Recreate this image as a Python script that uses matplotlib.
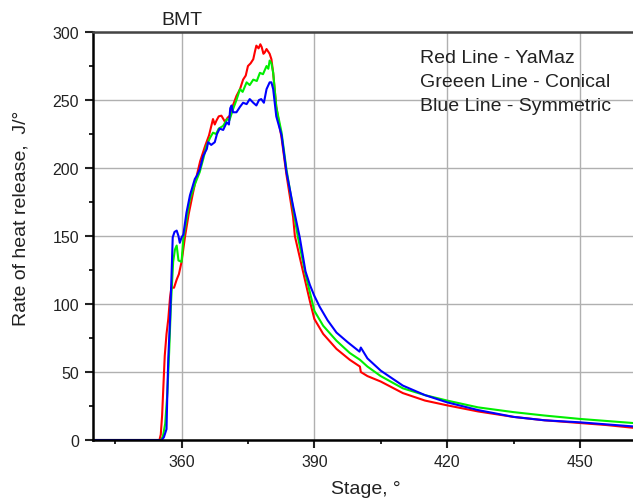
import matplotlib
matplotlib.use("Agg")
import matplotlib.pyplot as plt
from matplotlib.ticker import MultipleLocator

plt.rcParams['font.family'] = ['Liberation Sans', 'DejaVu Sans']

# Red line - YaMaz
red_x = [340, 355.0, 355.3, 355.6, 355.9, 356.2, 356.6, 357.0, 357.4, 357.7, 358.3, 358.9,
         359.4, 360.0, 360.8, 361.6, 362.6, 363.4, 364.2, 365.3, 366.2, 367.1, 367.5, 367.9,
         368.4, 369.0, 369.8, 370.4, 370.9, 371.6, 372.4, 373.2, 373.9, 374.5, 375.0, 375.6,
         376.2, 376.6, 376.9, 377.4, 377.8, 378.1, 378.5, 378.8, 379.2, 379.5, 379.9, 380.3,
         380.7, 381.4, 382.6, 383.7, 385.2, 385.6, 386.8, 388.0, 389.0, 390.0, 392.0, 395.0,
         398.0, 400.3, 400.5, 402.0, 405.0, 410.0, 415.0, 420.0, 427.0, 435.0, 442.0, 450.0,
         456.0, 462.0]
red_y = [0, 0, 4, 18, 40, 62, 78, 89, 105, 112, 112, 118,
         122, 131, 150, 166, 182, 194, 205, 216, 224, 236, 232, 235,
         238, 238.5, 234, 237, 238.5, 246, 253, 258, 265, 268, 275, 277,
         280, 286, 290, 288, 291, 289, 284, 285, 287.5, 286, 284, 280,
         270, 245, 222, 195, 164, 150, 133, 116, 102, 89, 78, 67,
         59, 54, 50, 47, 43, 34.5, 29, 25.5, 21, 17, 14.5, 12.5,
         11, 9]

# Green line - Conical
green_x = [340, 355.4, 355.8, 356.3, 356.8, 357.2, 357.6, 358.1, 358.5, 358.9, 359.3, 360.0,
           360.4, 361.0, 361.9, 363.0, 364.1, 365.0, 365.6, 366.4, 367.1, 367.8, 368.4, 369.4,
           370.3, 370.8, 371.6, 372.4, 373.2, 373.8, 374.7, 375.4, 376.2, 377.0, 377.7, 378.4,
           379.2, 379.6, 379.9, 380.3, 380.7, 381.4, 382.6, 383.7, 385.2, 386.3, 388.0, 390.0,
           392.0, 395.0, 398.0, 400.3, 402.0, 405.0, 410.0, 415.0, 420.0, 427.0, 435.0, 442.0,
           450.0, 456.0, 462.0]
green_y = [0, 0, 3, 12, 35, 65, 100, 131, 140, 143, 132, 131,
           148, 160, 177, 188, 197, 208, 216, 222, 226, 225, 229, 231,
           236, 235, 243, 250, 258, 256, 263, 261, 265, 264, 270, 269,
           275, 273, 279, 277, 270, 245, 226, 199, 170, 149, 122, 95,
           84, 73, 64, 59, 54, 47, 38, 33, 29, 24, 20.5, 18,
           15.5, 14, 12.5]

# Blue line - Symmetric
blue_x = [340, 355.5, 356.0, 356.6, 356.8, 357.0, 357.4, 357.7, 358.0, 358.4, 358.9, 359.3,
          359.6, 360.0, 360.4, 361.1, 361.9, 363.0, 363.4, 364.1, 364.9, 365.7, 366.0, 366.7,
          367.5, 368.0, 368.6, 369.4, 370.2, 370.7, 371.0, 371.3, 371.6, 372.4, 373.2, 373.9,
          374.7, 375.4, 376.2, 376.9, 377.5, 378.0, 378.6, 379.2, 379.9, 380.3, 380.7, 381.4,
          382.6, 383.7, 385.2, 386.7, 388.0, 389.0, 390.0, 391.2, 393.0, 395.0, 397.5, 400.2,
          400.5, 402.0, 405.0, 410.0, 415.0, 420.0, 427.0, 435.0, 442.0, 450.0, 456.0, 462.0]
blue_y = [0, 0, 2, 8, 37, 60, 89, 118, 149, 153, 154, 150,
          145, 149, 151, 167, 180, 192, 194, 199, 209, 214, 219, 217,
          219, 225, 229, 228, 233.6, 232, 244, 246, 241, 241, 245, 248,
          247, 250.7, 248, 246, 250, 250.7, 248, 258, 263, 263, 258, 238,
          224, 197, 172, 149, 124, 114, 106, 98, 88, 79, 72, 65,
          68, 60, 51, 40, 33, 27.7, 22, 17, 14.5, 13, 11.5, 10]

x_ticks = [360, 390, 420, 450]
y_ticks = [0, 50, 100, 150, 200, 250, 300]
legend_lines = ["Red Line - YaMaz", "Greeen Line - Conical", "Blue Line - Symmetric"]

fig = plt.figure(figsize=(6.33, 5.02), dpi=100)
ax = fig.add_axes([0.147, 0.1215, 0.853, 0.8127])

ax.plot(red_x, red_y, color='#ff0000', lw=1.5)
ax.plot(green_x, green_y, color='#00ee00', lw=1.5)
ax.plot(blue_x, blue_y, color='#0000ff', lw=1.5)

ax.set_xlim(340, 462)
ax.set_ylim(0, 300)
ax.set_xticks(x_ticks)
ax.set_yticks(y_ticks)
ax.xaxis.set_minor_locator(MultipleLocator(15))
ax.yaxis.set_minor_locator(MultipleLocator(25))
ax.grid(True, which='major', color='#b0b0b0', lw=1)
ax.set_axisbelow(True)

ax.tick_params(which='major', direction='out', length=6, width=1.5, labelsize=11.5,
               colors='#222222', pad=4)
ax.tick_params(which='minor', direction='out', length=3, width=1.2)
ax.spines['right'].set_visible(False)
ax.spines['left'].set_linewidth(1.8)
ax.spines['bottom'].set_linewidth(1.8)
ax.spines['top'].set_linewidth(1.8)
ax.spines['top'].set_color('#444444')

fig.text(366 / 633, 1 - 490 / 502, "Stage, °", fontsize=14, ha='center', va='center',
         color='#222222')
fig.text(21 / 633, 1 - 218 / 502, "Rate of heat release,  J/°", fontsize=14, rotation=90,
         ha='center', va='center', color='#222222')

fig.text(182 / 633, 1 - 20.5 / 502, "BMT", fontsize=14, ha='center', va='center',
         color='#222222')
for i, s in enumerate(legend_lines):
    fig.text(420 / 633, 1 - (58.5 + 24 * i) / 502, s, fontsize=14, ha='left', va='center',
             color='#222222')

fig.savefig("out.png", dpi=100)
